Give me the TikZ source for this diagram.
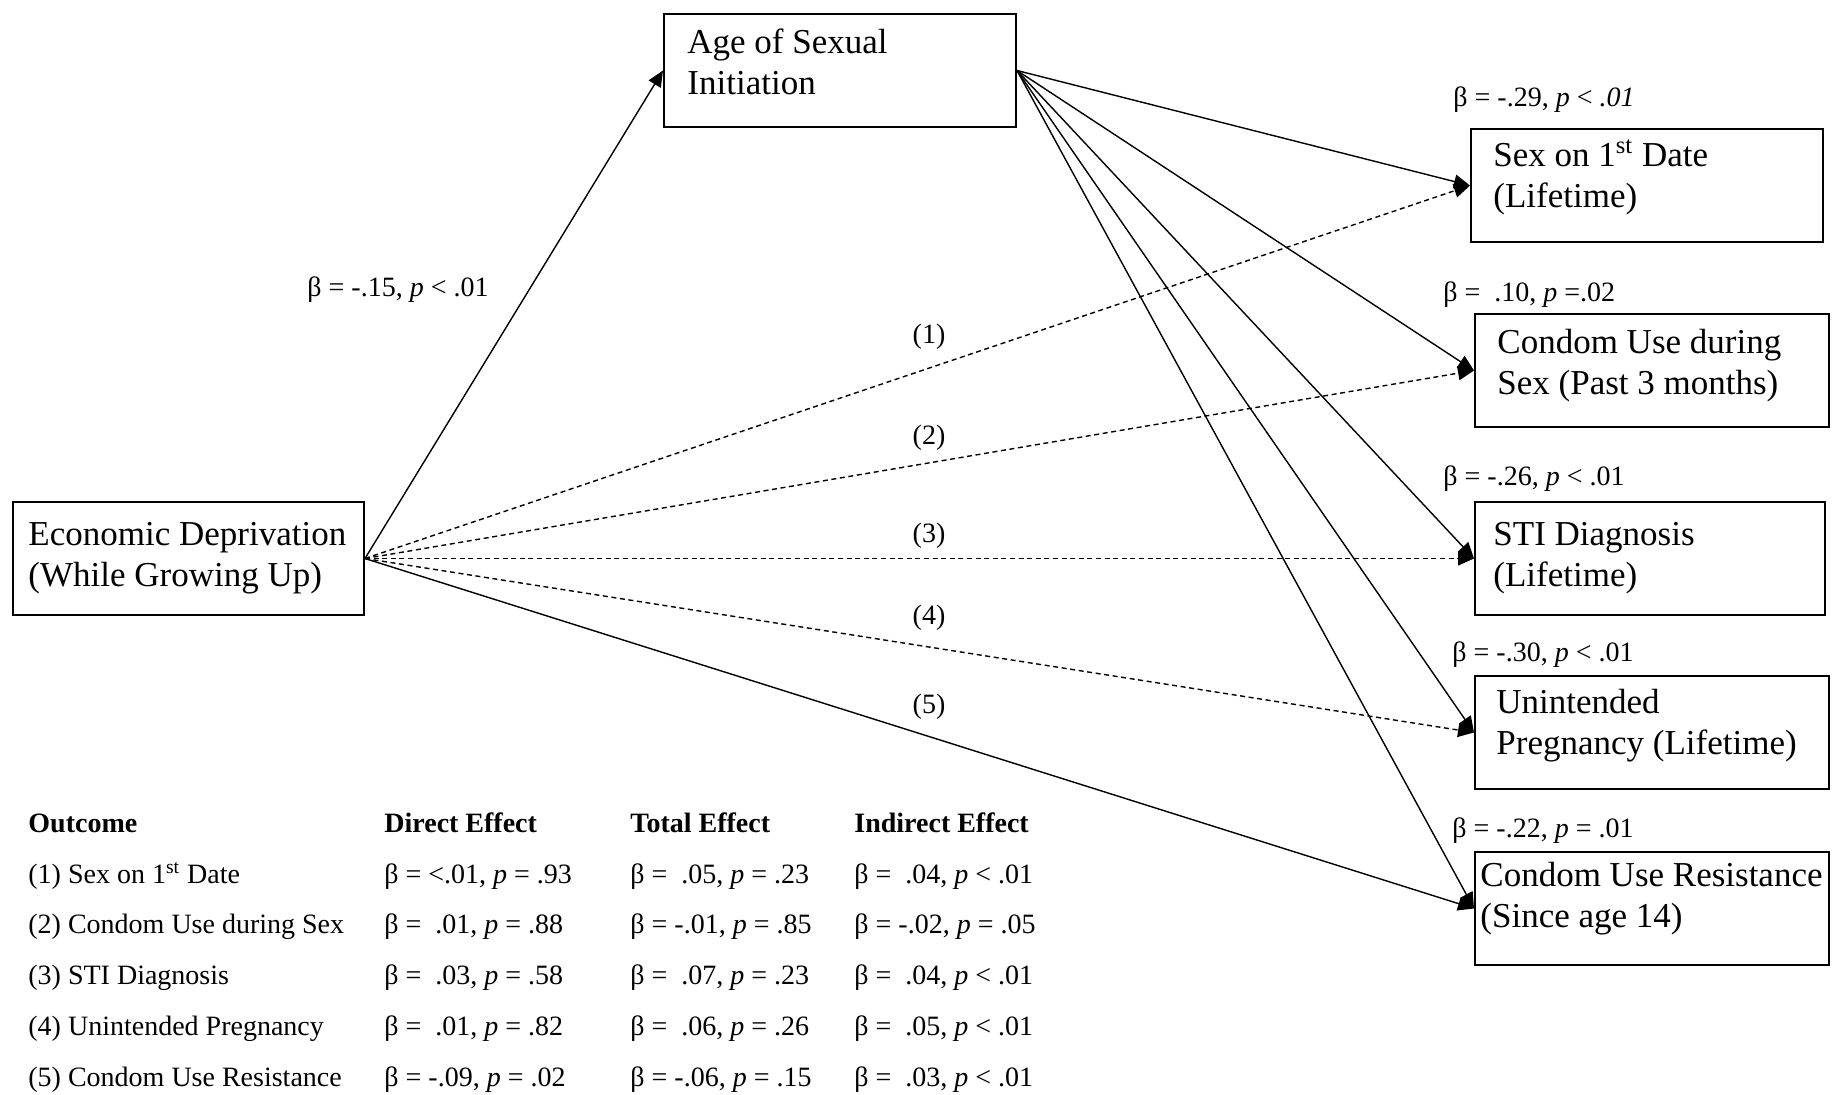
\documentclass[tikz,border=0pt]{standalone}
\usepackage{fontspec}
\setmainfont{Liberation Serif}
\usetikzlibrary{arrows.meta}
\newcommand{\pitl}{\textit{p}}
\begin{document}
\begin{tikzpicture}[x=0.5pt,y=-0.5pt,
  box/.style={draw,line width=1pt,anchor=north west,inner sep=0pt,minimum height=56.5pt},
  btxt/.style={anchor=west,inner sep=0pt,align=left,font=\fontsize{17.5}{20.5}\selectfont},
  lab/.style={inner sep=0pt,font=\fontsize{14}{16}\selectfont},
  tab/.style={inner sep=0pt,anchor=base west,font=\fontsize{14}{16}\selectfont},
  tabh/.style={inner sep=0pt,anchor=base west,font=\fontsize{14}{16}\selectfont\bfseries},
  arr/.style={line width=0.7pt,-{Triangle[length=8pt,width=7pt]}},
  darr/.style={arr,dash pattern=on 2.5pt off 1.8pt}]
\useasboundingbox (0,0) rectangle (1837,1094);

% boxes
\node[box,minimum width=176pt] (age) at (663,13) {};
\node[box,minimum width=175.5pt] (econ) at (12,501) {};
\node[box,minimum width=176pt] (sex) at (1470,128) {};
\node[box,minimum width=177pt] (cond) at (1474,313) {};
\node[box,minimum width=175pt] (sti) at (1474,501) {};
\node[box,minimum width=177pt] (unint) at (1474,675) {};
\node[box,minimum width=177pt] (resist) at (1474,851) {};

% box texts
\node[btxt] (agetxt) at (687,61.5) {Age of Sexual\\Initiation};
\node[btxt] (econtxt) at (28,558) {Economic Deprivation\\(While Growing Up)};
\node[btxt] (sextxt) at (1493,177.5) {Sex on 1\textsuperscript{st} Date\\(Lifetime)};
\node[btxt] (condtxt) at (1497,366) {Condom Use during\\Sex (Past 3 months)};
\node[btxt] (stitxt) at (1493,558) {STI Diagnosis\\(Lifetime)};
\node[btxt] (uninttxt) at (1496,726) {Unintended\\Pregnancy (Lifetime)};
\node[btxt] (resisttxt) at (1480,899) {Condom Use Resistance\\(Since age 14)};

% connectors
\draw[arr] (econ.east) -- (age.west);
\draw[darr] (econ.east) -- (sex.west);
\draw[darr] (econ.east) -- (cond.west);
\draw[darr] (econ.east) -- (sti.west);
\draw[darr] (econ.east) -- (unint.west);
\draw[arr] (econ.east) -- (resist.west);
\draw[arr] (age.east) -- (sex.west);
\draw[arr] (age.east) -- (cond.west);
\draw[arr] (age.east) -- (sti.west);
\draw[arr] (age.east) -- (unint.west);
\draw[arr] (age.east) -- (resist.west);

% path labels
\node[lab] (la) at (398,290) {β = -.15, \pitl{} < .01};
\node[lab] (p1) at (929,336.5) {(1)};
\node[lab] (p2) at (929,438) {(2)};
\node[lab] (p3) at (929,536) {(3)};
\node[lab] (p4) at (929,618) {(4)};
\node[lab] (p5) at (929,707) {(5)};
\node[lab,anchor=west] (ls) at (1453,99.5) {β = -.29, \pitl{} < \textit{.01}};
\node[lab,anchor=west] (lc) at (1443,294.5) {β = \ .10, \pitl{} =.02};
\node[lab,anchor=west] (lt) at (1443,478.5) {β = -.26, \pitl{} < .01};
\node[lab,anchor=west] (lu) at (1452,654.5) {β = -.30, \pitl{} < .01};
\node[lab,anchor=west] (lr) at (1452,830.5) {β = -.22, \pitl{} = .01};

% table
\node[tabh] (h1) at (28,832) {Outcome};
\node[tabh] (h2) at (384,832) {Direct Effect};
\node[tabh] (h3) at (630,832) {Total Effect};
\node[tabh] (h4) at (854,832) {Indirect Effect};

\node[tab] (r1a) at (28,883.5) {(1) Sex on 1\textsuperscript{st} Date};
\node[tab] (r1b) at (384,883.5) {β = <.01, \pitl{} = .93};
\node[tab] (r1c) at (630,883.5) {β = \ .05, \pitl{} = .23};
\node[tab] (r1d) at (854,883.5) {β = \ .04, \pitl{} < .01};

\node[tab] (r2a) at (28,933.5) {(2) Condom Use during Sex};
\node[tab] (r2b) at (384,933.5) {β = \ .01, \pitl{} = .88};
\node[tab] (r2c) at (630,933.5) {β = -.01, \pitl{} = .85};
\node[tab] (r2d) at (854,933.5) {β = -.02, \pitl{} = .05};

\node[tab] (r3a) at (28,984.5) {(3) STI Diagnosis};
\node[tab] (r3b) at (384,984.5) {β = \ .03, \pitl{} = .58};
\node[tab] (r3c) at (630,984.5) {β = \ .07, \pitl{} = .23};
\node[tab] (r3d) at (854,984.5) {β = \ .04, \pitl{} < .01};

\node[tab] (r4a) at (28,1035) {(4) Unintended Pregnancy};
\node[tab] (r4b) at (384,1035) {β = \ .01, \pitl{} = .82};
\node[tab] (r4c) at (630,1035) {β = \ .06, \pitl{} = .26};
\node[tab] (r4d) at (854,1035) {β = \ .05, \pitl{} < .01};

\node[tab] (r5a) at (28,1086) {(5) Condom Use Resistance};
\node[tab] (r5b) at (384,1086) {β = -.09, \pitl{} = .02};
\node[tab] (r5c) at (630,1086) {β = -.06, \pitl{} = .15};
\node[tab] (r5d) at (854,1086) {β = \ .03, \pitl{} < .01};
\end{tikzpicture}
\end{document}
